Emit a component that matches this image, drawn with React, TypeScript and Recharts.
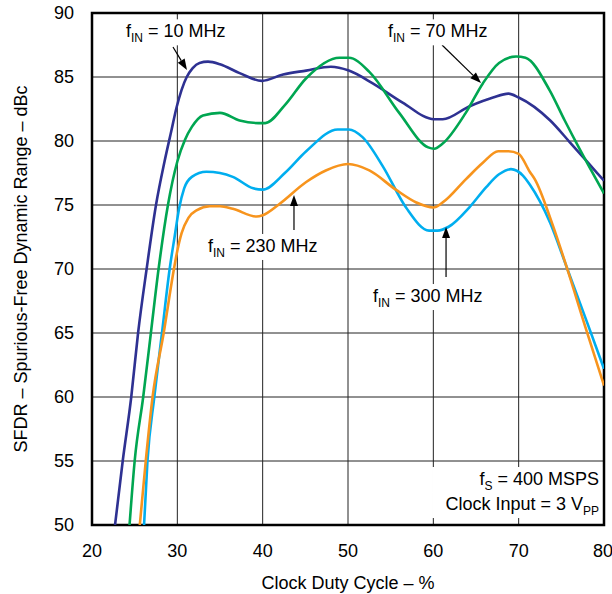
import React from 'react';
import {
  LineChart,
  Line,
  XAxis,
  YAxis,
  CartesianGrid,
  ReferenceArea,
  ReferenceLine,
  ReferenceDot,
  Label,
} from 'recharts';

const FONT = '"Liberation Sans", Arial, Helvetica, sans-serif';

const xTicks = [20, 30, 40, 50, 60, 70, 80];
const yTicks = [50, 55, 60, 65, 70, 75, 80, 85, 90];

// fIN = 10 MHz
const duty10 = [22.7, 23.6, 24.6, 25.4, 26.4, 27.5, 28.5, 29.3, 29.9, 30.5, 31.1, 31.8, 32.6, 33.6, 35.0, 37.3, 39.9, 42.4, 45.1, 48.0, 50.1, 52.9, 56.4, 60.1, 61.1, 64.2, 67.0, 68.8, 70.0, 73.7, 76.0, 78.0, 80];
const sfdr10 = [50, 55, 60, 65, 70, 75, 78.4, 80.8, 82.6, 84.0, 85.0, 85.7, 86.1, 86.2, 86.0, 85.3, 84.7, 85.2, 85.5, 85.8, 85.5, 84.5, 83.0, 81.7, 81.7, 82.7, 83.4, 83.7, 83.4, 81.6, 79.9, 78.4, 76.9];

// fIN = 70 MHz
const duty70 = [24.4, 25.0, 26.0, 26.9, 27.8, 28.9, 30.0, 30.9, 31.7, 33.0, 35.0, 37.3, 39.5, 40.3, 42.6, 45.1, 49.0, 50.1, 52.5, 56.0, 59.4, 60.1, 61.1, 63.8, 65.8, 67.7, 69.7, 70.8, 73.6, 75.4, 77.2, 80];
const sfdr70 = [50, 55, 60, 65, 70, 75, 78.4, 80.1, 81.1, 82.0, 82.2, 81.6, 81.4, 81.4, 82.8, 84.9, 86.5, 86.5, 85.4, 82.2, 79.5, 79.4, 79.8, 82.2, 84.5, 86.1, 86.6, 86.5, 84.0, 81.6, 79.3, 75.9];

// fIN = 300 MHz
const duty300 = [26.1, 26.5, 27.3, 28.2, 29.1, 29.7, 30.2, 30.8, 31.7, 33.4, 35.0, 36.5, 38.9, 40.0, 42.6, 45.1, 48.8, 50.1, 51.7, 54.1, 56.8, 59.5, 60.5, 61.8, 64.2, 66.2, 67.7, 69.1, 70.5, 71.3, 73.7, 75.6, 78.2, 80];
const sfdr300 = [50, 55, 60, 65, 70, 72.6, 74.7, 76.3, 77.2, 77.6, 77.5, 77.2, 76.3, 76.2, 77.5, 79.2, 80.9, 80.9, 80.3, 78.0, 74.8, 73.0, 73.0, 73.3, 74.8, 76.4, 77.4, 77.8, 77.3, 76.6, 73.6, 70.2, 65.5, 62.2];

// fIN = 230 MHz
const duty230 = [25.6, 26.3, 27.1, 28.4, 29.6, 29.9, 30.5, 31.3, 32.3, 33.8, 35.0, 36.5, 39.3, 40.0, 42.0, 45.1, 47.4, 50.0, 52.5, 55.6, 58.0, 60.0, 61.1, 63.8, 65.8, 67.6, 68.8, 70.0, 71.3, 71.9, 73.9, 75.6, 77.8, 80];
const sfdr230 = [50, 55, 60, 65, 70, 71.1, 72.8, 74.0, 74.6, 74.9, 74.9, 74.7, 74.1, 74.2, 75.1, 76.8, 77.7, 78.2, 77.7, 76.2, 75.2, 74.8, 75.2, 77.0, 78.3, 79.2, 79.2, 79.0, 77.6, 77.0, 73.6, 70.2, 65.5, 60.9];

const toPoints = (xs: number[], ys: number[]) => xs.map((x, i) => ({ x, y: ys[i] }));

const series = [
  { name: 'fIN = 10 MHz', data: toPoints(duty10, sfdr10), color: '#2E3192' },
  { name: 'fIN = 70 MHz', data: toPoints(duty70, sfdr70), color: '#00A651' },
  { name: 'fIN = 300 MHz', data: toPoints(duty300, sfdr300), color: '#00AEEF' },
  { name: 'fIN = 230 MHz', data: toPoints(duty230, sfdr230), color: '#F7941D' },
];

type Part = [string, boolean];

const notes: { x: number; y: number; parts: Part[]; anchor: 'start' | 'end'; w: number }[] = [
  { x: 23.98, y: 88.1, parts: [['f', false], ['IN', true], [' = 10 MHz', false]], anchor: 'start', w: 110 },
  { x: 54.69, y: 88.1, parts: [['f', false], ['IN', true], [' = 70 MHz', false]], anchor: 'start', w: 110 },
  { x: 33.59, y: 71.33, parts: [['f', false], ['IN', true], [' = 230 MHz', false]], anchor: 'start', w: 120 },
  { x: 52.93, y: 67.42, parts: [['f', false], ['IN', true], [' = 300 MHz', false]], anchor: 'start', w: 120 },
  { x: 79.42, y: 53.125, parts: [['f', false], ['S', true], [' = 400 MSPS', false]], anchor: 'end', w: 170 },
  { x: 79.42, y: 51.17, parts: [['Clock Input = 3 V', false], ['PP', true]], anchor: 'end', w: 170 },
];

const arrows = [
  { from: { x: 29.49, y: 87.34 }, to: { x: 31.13, y: 85.55 } },
  { from: { x: 61.02, y: 87.5 }, to: { x: 65.59, y: 84.53 } },
  { from: { x: 43.67, y: 73.05 }, to: { x: 43.67, y: 75.78 } },
  { from: { x: 61.49, y: 69.38 }, to: { x: 61.49, y: 73.28 } },
];

const Arrow = (props: any) => {
  const { x1, y1, x2, y2 } = props;
  const ang = Math.atan2(y2 - y1, x2 - x1);
  const L = 11;
  const W = 4;
  const bx = x2 - L * Math.cos(ang);
  const by = y2 - L * Math.sin(ang);
  const px = -Math.sin(ang) * W;
  const py = Math.cos(ang) * W;
  return (
    <g>
      <line x1={x1} y1={y1} x2={bx} y2={by} stroke="#000" strokeWidth={1.2} />
      <polygon points={`${x2},${y2} ${bx + px},${by + py} ${bx - px},${by - py}`} fill="#000" />
    </g>
  );
};

const Note = (props: any) => {
  const { cx, cy, parts, anchor, w } = props;
  const x0 = anchor === 'start' ? cx - 3 : cx - w + 3;
  return (
    <g>
      <rect x={x0} y={cy - 18} width={w} height={26} fill="#fff" />
      <text
        x={cx}
        y={cy}
        textAnchor={anchor}
        fontSize={18}
        fill="#000"
        fontFamily={FONT}
        style={{ whiteSpace: 'pre' }}
      >
        {parts.map((p: Part, i: number) => {
          const prevSub = i > 0 && parts[i - 1][1];
          if (p[1]) {
            return (
              <tspan key={i} fontSize={12} dy={5}>
                {p[0]}
              </tspan>
            );
          }
          return (
            <tspan key={i} dy={prevSub ? -5 : 0}>
              {p[0]}
            </tspan>
          );
        })}
      </text>
    </g>
  );
};

const tickStyle = { fontSize: 18, fill: '#000', fontFamily: FONT };

export default function App() {
  return (
    <div style={{ position: 'absolute', left: 0, top: 0, background: '#fff' }}>
      <LineChart width={612} height={594} margin={{ top: 13, right: 8, bottom: 0, left: 0 }}>
        <CartesianGrid stroke="#222" strokeWidth={1} />
        <XAxis
          type="number"
          dataKey="x"
          domain={[20, 80]}
          ticks={xTicks}
          allowDataOverflow
          axisLine={false}
          tickLine={false}
          tickSize={6}
          tickMargin={13}
          height={69}
          tick={tickStyle}
        >
          <Label
            content={(p: any) => {
              const vb = p.viewBox;
              return (
                <text
                  x={vb.x + vb.width / 2}
                  y={vb.y + vb.height - 5}
                  textAnchor="middle"
                  fontSize={18}
                  fill="#000"
                  fontFamily={FONT}
                >
                  Clock Duty Cycle – %
                </text>
              );
            }}
          />
        </XAxis>
        <YAxis
          type="number"
          domain={[50, 90]}
          ticks={yTicks}
          allowDataOverflow
          axisLine={false}
          tickLine={false}
          tickSize={6}
          tickMargin={12}
          width={92}
          tick={tickStyle}
        >
          <Label
            content={(p: any) => {
              const vb = p.viewBox;
              const cx = vb.x + 27;
              const cy = vb.y + vb.height / 2;
              return (
                <text
                  x={cx}
                  y={cy}
                  transform={`rotate(-90, ${cx}, ${cy})`}
                  textAnchor="middle"
                  fontSize={18}
                  fill="#000"
                  fontFamily={FONT}
                >
                  SFDR – Spurious-Free Dynamic Range – dBc
                </text>
              );
            }}
          />
        </YAxis>
        {notes.map((n, i) => (
          <ReferenceDot
            key={`n${i}`}
            x={n.x}
            y={n.y}
            r={0}
            shape={(p: any) => <Note cx={p.cx} cy={p.cy} parts={n.parts} anchor={n.anchor} w={n.w} />}
          />
        ))}
        {series.map((s) => (
          <Line
            key={s.name}
            name={s.name}
            data={s.data}
            dataKey="y"
            type="monotone"
            stroke={s.color}
            strokeWidth={2.6}
            dot={false}
            activeDot={false}
            isAnimationActive={false}
          />
        ))}
        {arrows.map((a, i) => (
          <ReferenceLine key={`a${i}`} segment={[a.from, a.to]} shape={Arrow} />
        ))}
        <ReferenceArea x1={20} x2={80} y1={50} y2={90} fill="none" fillOpacity={0} stroke="#000" strokeWidth={2.5} />
      </LineChart>
    </div>
  );
}
